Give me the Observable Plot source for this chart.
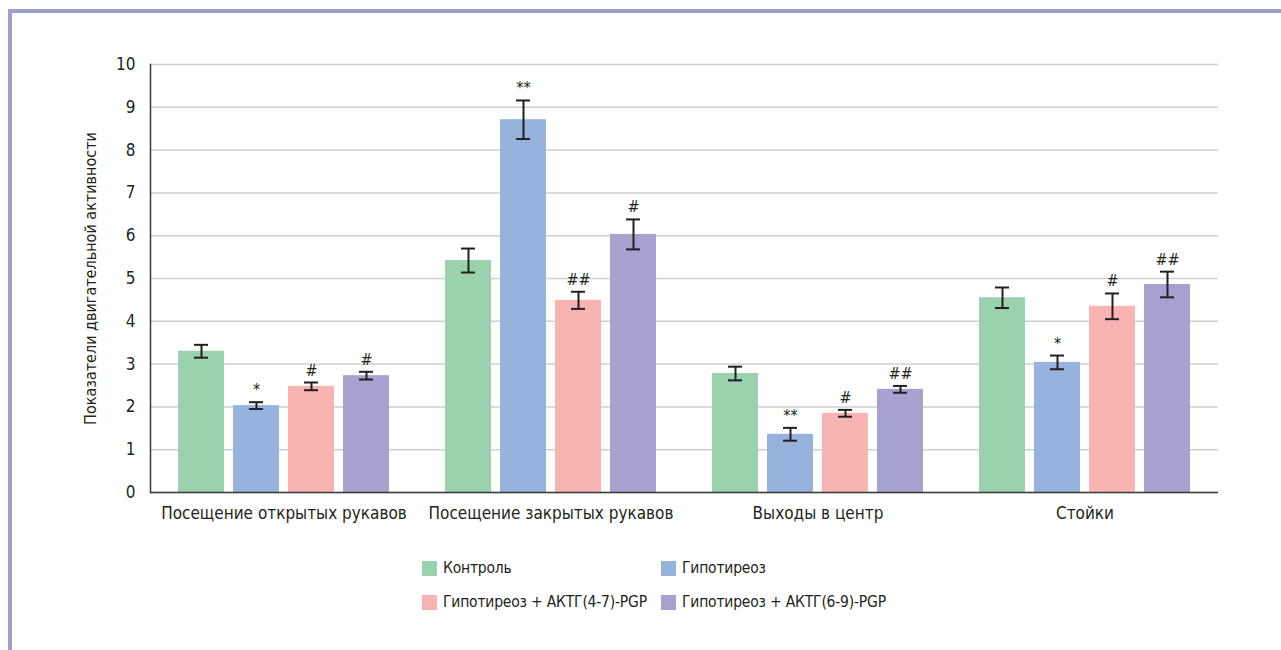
<!DOCTYPE html>
<html>
<head>
<meta charset="utf-8">
<script src="https://cdn.jsdelivr.net/npm/d3@7"></script>
<script src="https://cdn.jsdelivr.net/npm/@observablehq/plot@0.6"></script>
<style>
  html, body { margin: 0; padding: 0; background: #ffffff; }
  #page { position: relative; width: 1281px; height: 650px; overflow: hidden;
          font-family: "DejaVu Sans Condensed", "Liberation Sans Narrow", sans-serif; color: #231f20; }
  #borderTop { position: absolute; left: 8px; top: 9px; width: 1273px; height: 4px; background: #a09ed0; }
  #borderLeft { position: absolute; left: 8px; top: 9px; width: 4px; height: 641px; background: #a09ed0; }
  #chart { position: absolute; left: 0; top: 0; }
  #legend { position: absolute; left: 422px; top: 551px; display: grid;
            grid-template-columns: 239px auto; grid-auto-rows: 34px; font-size: 15.5px; letter-spacing: -0.2px; }
  .item { display: flex; align-items: center; white-space: nowrap; }
  .sw { width: 15px; height: 15px; margin-right: 6px; flex: none; }
</style>
</head>
<body>
<div id="page">
  <div id="borderTop"></div>
  <div id="borderLeft"></div>
  <div id="chart"></div>
  <div id="legend"></div>
</div>
<script>
const groups = ["Посещение открытых рукавов", "Посещение закрытых рукавов", "Выходы в центр", "Стойки"];
const series = ["Контроль", "Гипотиреоз", "Гипотиреоз + АКТГ(4-7)-PGP", "Гипотиреоз + АКТГ(6-9)-PGP"];
const colors = ["#99d2ac", "#95b3dd", "#f7b4b1", "#a6a1cf"];

const controlValues = [3.30, 5.42, 2.78, 4.55];
const controlErrors = [0.15, 0.28, 0.16, 0.24];
const controlSig    = ["", "", "", ""];

const hypoValues = [2.03, 8.71, 1.36, 3.04];
const hypoErrors = [0.08, 0.45, 0.15, 0.16];
const hypoSig    = ["*", "**", "**", "*"];

const acth47Values = [2.48, 4.49, 1.85, 4.35];
const acth47Errors = [0.09, 0.20, 0.08, 0.30];
const acth47Sig    = ["#", "##", "#", "#"];

const acth69Values = [2.73, 6.03, 2.41, 4.86];
const acth69Errors = [0.09, 0.35, 0.08, 0.30];
const acth69Sig    = ["#", "#", "##", "##"];

const yTicks = [0, 1, 2, 3, 4, 5, 6, 7, 8, 9, 10];
const yLabel = "Показатели двигательной активности";

const valueSets = [controlValues, hypoValues, acth47Values, acth69Values];
const errorSets = [controlErrors, hypoErrors, acth47Errors, acth69Errors];
const sigSets = [controlSig, hypoSig, acth47Sig, acth69Sig];

const data = [];
series.forEach((s, si) => groups.forEach((g, gi) => data.push({
  group: g, series: s, value: valueSets[si][gi], err: errorSets[si][gi], sig: sigSets[si][gi]
})));

const ink = "#231f20";
const font = '"DejaVu Sans Condensed", "Liberation Sans Narrow", sans-serif';

const chart = Plot.plot({
  width: 1281,
  height: 540,
  marginLeft: 150,
  marginRight: 63,
  marginTop: 64,
  marginBottom: 48,
  style: { fontFamily: font, fontSize: "17px", color: ink, background: "transparent", overflow: "visible" },
  fx: { domain: groups, padding: 0, label: null, axis: null },
  x: { domain: series, paddingInner: 0.17, paddingOuter: 0.5, axis: null },
  y: { domain: [0, 10], axis: null },
  color: { domain: series, range: colors },
  marks: [
    Plot.gridY(yTicks, { stroke: "#cfcfcf", strokeOpacity: 1, strokeWidth: 1.5 }),
    Plot.barY(data, { fx: "group", x: "series", y: "value", fill: "series" }),
    Plot.ruleX(data, { fx: "group", x: "series", y1: d => d.value - d.err, y2: d => d.value + d.err, stroke: ink, strokeWidth: 2 }),
    Plot.tickY(data, { fx: "group", x: "series", y: d => d.value - d.err, insetLeft: 16, insetRight: 16, stroke: ink, strokeWidth: 2 }),
    Plot.tickY(data, { fx: "group", x: "series", y: d => d.value + d.err, insetLeft: 16, insetRight: 16, stroke: ink, strokeWidth: 2 }),
    Plot.text(data, { fx: "group", x: "series", y: d => d.value + d.err, text: "sig", lineAnchor: "bottom", dy: -7, fontSize: 16, fill: ink }),
    Plot.ruleY([0], { stroke: "#3a3a3a", strokeWidth: 1.5 }),
    Plot.frame({ anchor: "left", facetAnchor: "left", stroke: "#3a3a3a", strokeWidth: 1.5 }),
    Plot.axisY({ ticks: yTicks, tickSize: 0, tickPadding: 15, label: null, fontSize: 17, fill: ink }),
    Plot.axisY({ ticks: [], tickSize: 0, label: yLabel, labelAnchor: "center", labelArrow: "none", labelOffset: 66, fontSize: 16, fill: ink }),
    Plot.axisFx({ anchor: "bottom", tickSize: 0, tickPadding: 14, label: null, fontSize: 17, fill: ink })
  ]
});
document.getElementById("chart").appendChild(chart);

const legend = document.getElementById("legend");
series.forEach((s, i) => {
  const item = document.createElement("div");
  item.className = "item";
  const sw = document.createElement("span");
  sw.className = "sw";
  sw.style.background = colors[i];
  const label = document.createElement("span");
  label.textContent = s;
  item.appendChild(sw);
  item.appendChild(label);
  legend.appendChild(item);
});
</script>
</body>
</html>
